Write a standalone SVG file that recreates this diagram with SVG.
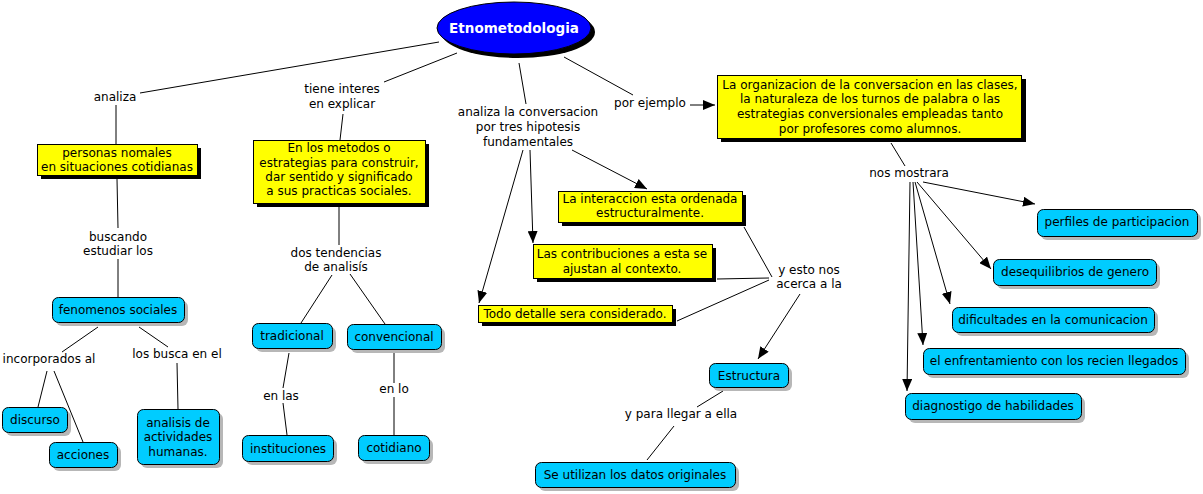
<svg xmlns="http://www.w3.org/2000/svg" width="1203" height="494" viewBox="0 0 1203 494">
<defs>
<style>
text{font-family:"DejaVu Sans",Verdana,sans-serif;font-size:12px;fill:#000;text-anchor:middle}
.t{font-family:"DejaVu Sans",Verdana,sans-serif;font-size:13.5px;font-weight:bold;fill:#fff}
.y{fill:#ffff00;stroke:#000;stroke-width:1}
.ys{fill:#000}
.b{fill:#00ccff;stroke:#000;stroke-width:1}
.bs{fill:#999;opacity:0.7}
.c line,.c polyline{stroke:#000;stroke-width:1;fill:none}
.a{marker-end:url(#arr)}
</style>
<marker id="arr" markerWidth="12" markerHeight="10" refX="12" refY="5" orient="auto" markerUnits="userSpaceOnUse">
<path d="M0,0 L12,5 L0,10 Z" fill="#000"/>
</marker>
</defs>
<rect width="1203" height="494" fill="#fff"/>

<g class="c" id="connectors">
<line x1="439" y1="42" x2="140" y2="93"/>
<line x1="116" y1="105" x2="116" y2="144"/>
<line x1="457" y1="53" x2="384" y2="82"/>
<line x1="343" y1="114" x2="340" y2="140"/>
<line x1="519" y1="63" x2="526" y2="104"/>
<line x1="564" y1="57" x2="633" y2="95"/>
<line class="a" x1="690" y1="105" x2="715" y2="105"/>
<line x1="117" y1="179" x2="118" y2="228"/>
<line x1="118" y1="259" x2="118" y2="297"/>
<line x1="98" y1="327" x2="62" y2="352"/>
<line x1="139" y1="327" x2="168" y2="347"/>
<line x1="47" y1="371" x2="38" y2="407"/>
<line x1="54" y1="371" x2="83" y2="442"/>
<line x1="177" y1="363" x2="178" y2="409"/>
<line x1="339" y1="207" x2="339" y2="245"/>
<line x1="332" y1="275" x2="301" y2="323"/>
<line x1="350" y1="274" x2="385" y2="324"/>
<line x1="289" y1="353" x2="283" y2="388"/>
<line x1="283" y1="403" x2="287" y2="435"/>
<line x1="394" y1="353" x2="394" y2="383"/>
<line x1="394" y1="397" x2="394" y2="435"/>
<line class="a" x1="572" y1="150" x2="647" y2="189"/>
<line class="a" x1="530" y1="150" x2="533" y2="243"/>
<line class="a" x1="523" y1="150" x2="479" y2="303"/>
<line x1="744" y1="227" x2="772" y2="277"/>
<line x1="717" y1="279" x2="769" y2="278"/>
<line x1="677" y1="321" x2="769" y2="280"/>
<line class="a" x1="800" y1="294" x2="758" y2="359"/>
<line x1="723" y1="391" x2="697" y2="407"/>
<line x1="674" y1="426" x2="647" y2="460"/>
<line x1="891" y1="143" x2="905" y2="166"/>
<line class="a" x1="923" y1="182" x2="1035" y2="204"/>
<line class="a" x1="917" y1="182" x2="991" y2="269"/>
<line class="a" x1="915" y1="182" x2="950" y2="304"/>
<line class="a" x1="913" y1="182" x2="923" y2="345"/>
<line class="a" x1="910" y1="182" x2="907" y2="391"/>
</g>

<g id="etnometodologia">
<ellipse cx="518" cy="32" rx="77" ry="26" fill="#000"/>
<ellipse cx="514" cy="28" rx="77" ry="26" fill="#0000ff" stroke="#000"/>
<text class="t" x="514" y="33">Etnometodologia</text>
</g>

<g id="l-analiza"><text x="115" y="101">analiza</text></g>
<g id="l-tiene"><text x="342" y="93">tiene interes</text><text x="342" y="108">en explicar</text></g>
<g id="l-analiza-conv"><text x="528" y="116">analiza la conversacion</text><text x="528" y="131">por tres hipotesis</text><text x="528" y="146">fundamentales</text></g>
<g id="l-por-ejemplo"><text x="650" y="107">por ejemplo</text></g>

<g id="personas">
<rect class="ys" x="41" y="148" width="160" height="31"/>
<rect class="y" x="37.5" y="144.5" width="160" height="31"/>
<text x="117" y="157">personas nomales</text><text x="117" y="171">en situaciones cotidianas</text>
</g>

<g id="metodos">
<rect class="ys" x="257" y="144" width="172" height="63"/>
<rect class="y" x="253.5" y="140.5" width="172" height="63"/>
<text x="339" y="152">En los metodos o</text><text x="339" y="167">estrategias para construir,</text><text x="339" y="181">dar sentido y significado</text><text x="339" y="195">a sus practicas sociales.</text>
</g>

<g id="organizacion">
<rect class="ys" x="721" y="79" width="305" height="63"/>
<rect class="y" x="717.5" y="75.5" width="304" height="63"/>
<text x="870" y="89">La organizacion de la conversacion en las clases,</text><text x="870" y="103">la naturaleza de los turnos de palabra o las</text><text x="870" y="118">estrategias conversionales empleadas tanto</text><text x="870" y="133">por profesores como alumnos.</text>
</g>

<g id="l-buscando"><text x="118" y="241">buscando</text><text x="118" y="255">estudiar los</text></g>

<g id="fenomenos">
<rect class="bs" x="56" y="301" width="132" height="25" rx="6"/>
<rect class="b" x="52.5" y="297.5" width="132" height="25" rx="6"/>
<text x="118" y="314">fenomenos sociales</text>
</g>

<g id="l-incorporados"><text x="49" y="363">incorporados al</text></g>
<g id="l-busca"><text x="177" y="358">los busca en el</text></g>

<g id="discurso">
<rect class="bs" x="6" y="411" width="65" height="25" rx="6"/>
<rect class="b" x="2.5" y="407.5" width="65" height="25" rx="6"/>
<text x="35" y="424">discurso</text>
</g>

<g id="acciones">
<rect class="bs" x="53" y="446" width="68" height="25" rx="6"/>
<rect class="b" x="49.5" y="442.5" width="68" height="25" rx="6"/>
<text x="83" y="459">acciones</text>
</g>

<g id="analisis">
<rect class="bs" x="141" y="413" width="82" height="55" rx="6"/>
<rect class="b" x="137.5" y="409.5" width="82" height="55" rx="6"/>
<text x="178" y="427">analisis de</text><text x="178" y="441">actividades</text><text x="178" y="456">humanas.</text>
</g>

<g id="l-dos"><text x="336" y="257">dos tendencias</text><text x="336" y="271">de analisís</text></g>

<g id="tradicional">
<rect class="bs" x="256" y="327" width="80" height="25" rx="6"/>
<rect class="b" x="252.5" y="323.5" width="80" height="25" rx="6"/>
<text x="292" y="340">tradicional</text>
</g>

<g id="convencional">
<rect class="bs" x="351" y="328" width="94" height="25" rx="6"/>
<rect class="b" x="347.5" y="324.5" width="94" height="25" rx="6"/>
<text x="394" y="341">convencional</text>
</g>

<g id="l-en-las"><text x="281" y="400">en las</text></g>
<g id="l-en-lo"><text x="394" y="393">en lo</text></g>

<g id="instituciones">
<rect class="bs" x="246" y="439" width="91" height="26" rx="6"/>
<rect class="b" x="242.5" y="435.5" width="91" height="26" rx="6"/>
<text x="288" y="453">instituciones</text>
</g>

<g id="cotidiano">
<rect class="bs" x="362" y="439" width="71" height="25" rx="6"/>
<rect class="b" x="358.5" y="435.5" width="71" height="25" rx="6"/>
<text x="394" y="452">cotidiano</text>
</g>

<g id="interaccion">
<rect class="ys" x="562" y="195" width="184" height="31"/>
<rect class="y" x="558.5" y="191.5" width="184" height="31"/>
<text x="650" y="203">La interaccion esta ordenada</text><text x="650" y="217">estructuralmente.</text>
</g>

<g id="contribuciones">
<rect class="ys" x="537" y="248" width="179" height="34"/>
<rect class="y" x="533.5" y="244.5" width="179" height="34"/>
<text x="622" y="258">Las contribuciones a esta se</text><text x="622" y="273">ajustan al contexto.</text>
</g>

<g id="todo">
<rect class="ys" x="482" y="309" width="194" height="17"/>
<rect class="y" x="478.5" y="305.5" width="194" height="17"/>
<text x="575" y="318">Todo detalle sera considerado.</text>
</g>

<g id="l-esto"><text x="809" y="274">y esto nos</text><text x="809" y="288">acerca a la</text></g>

<g id="estructura">
<rect class="bs" x="713" y="367" width="79" height="24" rx="6"/>
<rect class="b" x="709.5" y="363.5" width="79" height="24" rx="6"/>
<text x="749" y="380">Estructura</text>
</g>

<g id="l-llegar"><text x="681" y="418">y para llegar a ella</text></g>

<g id="datos">
<rect class="bs" x="539" y="466" width="200" height="25" rx="6"/>
<rect class="b" x="535.5" y="462.5" width="200" height="25" rx="6"/>
<text x="635" y="479">Se utilizan los datos originales</text>
</g>

<g id="l-nos"><text x="909" y="177">nos mostrara</text></g>

<g id="perfiles">
<rect class="bs" x="1041" y="213" width="160" height="27" rx="6"/>
<rect class="b" x="1037.5" y="209.5" width="160" height="27" rx="6"/>
<text x="1117" y="226">perfiles de participacion</text>
</g>

<g id="desequilibrios">
<rect class="bs" x="997" y="263" width="163" height="26" rx="6"/>
<rect class="b" x="993.5" y="259.5" width="163" height="26" rx="6"/>
<text x="1075" y="276">desequilibrios de genero</text>
</g>

<g id="dificultades">
<rect class="bs" x="956" y="311" width="202" height="25" rx="6"/>
<rect class="b" x="952.5" y="307.5" width="202" height="25" rx="6"/>
<text x="1053" y="324">dificultades en la comunicacion</text>
</g>

<g id="enfrentamiento">
<rect class="bs" x="927" y="352" width="262" height="26" rx="6"/>
<rect class="b" x="923.5" y="348.5" width="262" height="26" rx="6"/>
<text x="1054" y="365">el enfrentamiento con los recien llegados</text>
</g>

<g id="diagnostigo">
<rect class="bs" x="909" y="397" width="176" height="26" rx="6"/>
<rect class="b" x="905.5" y="393.5" width="176" height="26" rx="6"/>
<text x="993" y="410">diagnostigo de habilidades</text>
</g>
</svg>
